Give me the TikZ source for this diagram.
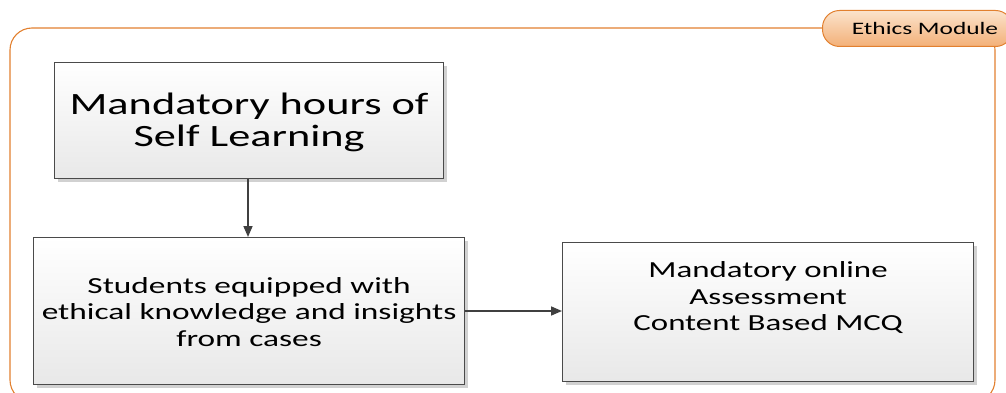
\documentclass[tikz,border=0pt]{standalone}
\usepackage{fontspec}
\setmainfont{Carlito}
\usetikzlibrary{arrows.meta}
\definecolor{frameorange}{HTML}{E2802F}
\definecolor{lbltop}{HTML}{FBE3CC}
\definecolor{lblbot}{HTML}{F3B078}
\definecolor{boxborder}{HTML}{4A4A4A}
\newcommand{\wtxt}[2][1.43]{\scalebox{#1}[1]{\begin{tabular}{@{}c@{}}#2\end{tabular}}}
\tikzset{
  procbox/.style={draw=boxborder, line width=1.2pt, top color=white, bottom color=black!9,
    align=center, inner sep=0pt, anchor=north west},
  shadowbox/.style={fill=black!18, draw=none},
  conn/.style={draw=black!75, line width=1.6pt, -{Triangle[length=11pt,width=9pt]}},
  bigtxt/.style={font=\fontsize{31}{32}\selectfont},
  midtxt/.style={font=\fontsize{23}{26.5}\selectfont},
}
\begin{document}
\begin{tikzpicture}[x=1pt,y=-1pt]
\useasboundingbox (0,0) rectangle (1006,393);
\clip (0,0) rectangle (1006,393);
% outer frame
\draw[frameorange, line width=1.1pt, rounded corners=22pt] (10,28) rectangle (995,402);
% label
\node[draw=frameorange, line width=1pt, rounded corners=17pt, top color=lbltop, bottom color=lblbot,
  minimum width=190pt, minimum height=36pt, anchor=north west, inner sep=0pt] (lbl) at (822,10) {};
\node[font=\fontsize{17.5}{18}\selectfont, inner sep=0pt] (lbltxt) at (925,28)
  {\scalebox{1.45}[1]{Ethics Module}};
% shadows
\fill[shadowbox] (58,66) rectangle (447,182);
\fill[shadowbox] (37,241) rectangle (468,388);
\fill[shadowbox] (566,246) rectangle (977,385);
% boxes
\node[procbox, bigtxt, minimum width=389pt, minimum height=116pt] (a) at (54,62)
  {\raisebox{-10pt}[0pt][0pt]{\wtxt{Mandatory hours of\\Self Learning}}};
\node[procbox, midtxt, minimum width=431pt, minimum height=147pt] (b) at (33,237)
  {\raisebox{-9.5pt}[0pt][0pt]{\wtxt[1.45]{Students equipped with\\ethical knowledge and insights\\from cases}}};
\node[procbox, midtxt, minimum width=411pt, minimum height=139pt] (c) at (562,242)
  {\raisebox{7pt}[0pt][0pt]{\wtxt{Mandatory online\\Assessment\\Content Based MCQ}}};
% connectors
\draw[conn] (a.south -| 248,0) -- (b.north -| 248,0);
\draw[conn] (b.east |- 0,311) -- (c.west |- 0,311);
\end{tikzpicture}
\end{document}
